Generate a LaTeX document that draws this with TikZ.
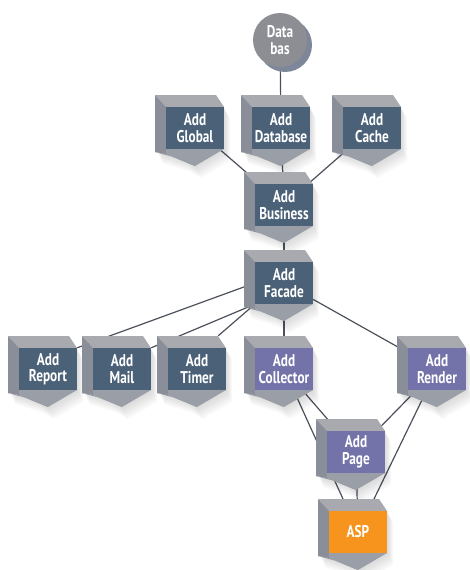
\documentclass[tikz,border=0pt]{standalone}
\usepackage{fontspec}
\setmainfont{PT Sans}[FakeStretch=0.78]
\usetikzlibrary{positioning,calc}

\definecolor{topgrey}{HTML}{A8AAAF}
\definecolor{sidegrey}{HTML}{8A8E98}
\definecolor{tipgrey}{HTML}{9A9EA7}
\definecolor{slate}{HTML}{4A6178}
\definecolor{lilac}{HTML}{7373AA}
\definecolor{amber}{HTML}{F7941D}
\definecolor{discgrey}{HTML}{8D8E93}
\definecolor{discshade}{HTML}{7E8799}
\definecolor{wire}{HTML}{4B505A}

\pgfdeclarelayer{background}
\pgfsetlayers{background,main}

\tikzset{
  label font/.style={text=white, align=center, font=\bfseries\fontsize{17}{16.5}\selectfont},
  front/.style={minimum width=58pt, minimum height=42pt, inner sep=0pt, label font},
  link/.style={wire, line width=1.2pt},
}

% one block: colour, name, centre, text
\newcommand{\block}[4]{%
  \begin{scope}[shift={(#3)}]
    \foreach \s in {2,4,...,12}
      \fill[black,opacity=0.025] (-39+\s/2,-33+\s) -- (21+\s/2,-33+\s) -- (29+\s/2,-21+\s)
        -- (29+\s/2,21+\s) -- (0+\s/2,38+\s) -- (-10+\s/2,32+\s) -- (-39+\s/2,23+\s) -- cycle;
    \fill[topgrey] (-40,-33) -- (21,-33) -- (29,-21) -- (-29,-21) -- cycle;
    \fill[sidegrey] (-40,-33) -- (-29,-21) -- (-29,26) -- (-40,24) -- cycle;
    \fill[sidegrey] (-40,24) -- (-29,26) -- (0,38) -- (-10,32) -- cycle;
    \fill[tipgrey] (-29,21) -- (29,21) -- (0,38) -- (-29,26) -- cycle;
  \end{scope}
  \node[front, fill=#1] (#2) at (#3) {#4};
}

\begin{document}
\begin{tikzpicture}[x=1pt, y=-1pt]
\useasboundingbox (0,0) rectangle (469,570);

% data source
\fill[discshade] (285,45) circle (27);
\node[circle, fill=discgrey, minimum size=54pt, inner sep=0pt, label font] (db) at (280,40) {Data\\bas};

% blocks
\block{slate}{global}{195,128}{Add\\Global}
\block{slate}{database}{281,128}{Add\\Database}
\block{slate}{cache}{372,128}{Add\\Cache}
\block{slate}{business}{284,205}{Add\\Business}
\block{slate}{facade}{284,283}{Add\\Facade}
\block{slate}{report}{48,369}{Add\\Report}
\block{slate}{mail}{122,369}{Add\\Mail}
\block{slate}{timer}{197,369}{Add\\Timer}
\block{lilac}{collector}{284,369}{Add\\Collector}
\block{lilac}{render}{437,369}{Add\\Render}
\block{lilac}{page}{356,452}{Add\\Page}
\block{amber}{asp}{358,532}{ASP}

% connectors
\begin{pgfonlayer}{background}
\draw[link] (db) -- (database);
\draw[link] (global) -- (business);
\draw[link] (database) -- (business);
\draw[link] (cache) -- (business);
\draw[link] (business) -- (facade);
\draw[link] (facade.west) -- (report.north east);
\draw[link] (facade.south west) -- (mail.north east);
\draw[link] (facade.south west) -- ($(timer.north east)+(-8,-12)$);
\draw[link] (facade) -- (collector);
\draw[link] (facade) -- (render);
\draw[link] (collector) -- (page);
\draw[link] (collector) -- (asp);
\draw[link] (render) -- (page);
\draw[link] (render) -- (asp);
\draw[link] (page) -- (asp);
\end{pgfonlayer}
\end{tikzpicture}
\end{document}
